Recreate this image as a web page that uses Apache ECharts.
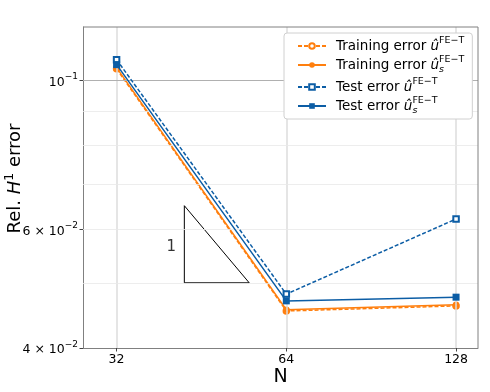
<!DOCTYPE html>
<html>
<head>
<meta charset="utf-8">
<script src="https://cdn.jsdelivr.net/npm/echarts@6/dist/echarts.min.js"></script>
<style>html,body{margin:0;padding:0;background:#fff}#c{width:490px;height:392px}</style>
</head>
<body>
<div id="c"></div>
<script>
const N = [32, 64, 128];
const trainU = [0.1040, 0.0454, 0.0462];
const trainUs = [0.1044, 0.0456, 0.0464];
const testU = [0.1073, 0.0481, 0.0622];
const testUs = [0.1055, 0.0470, 0.0476];
const xTicks = [32, 64, 128];
const yTicks = [0.04, 0.06, 0.1];
const yMinorGrid = [0.05, 0.06, 0.07, 0.08, 0.09];
const yMajorGrid = [0.1];
const triX = [42.2, 42.2, 55.0, 42.2];
const triY = [0.0651, 0.05, 0.05, 0.0651];
const triLabelPos = [40.0, 0.0565];

const FF = 'DejaVu Sans';
const ORANGE = '#ff7f0e';
const BLUE = '#0c5da5';

function pairs(xs, ys) { return xs.map((x, i) => [x, ys[i]]); }

const yLabelMap = {0.04: '4 × {n|10}{sup|−2}', 0.06: '6 × {n|10}{sup|−2}', 0.1: '{n|10}{sup|−1}'};

const legendNames = ['trU', 'trUs', 'teU', 'teUs'];
const legendText = {
  trU: '{t|Training error }{i|û}{sup|FE−T}',
  trUs: '{t|Training error }{i|û}{sub|s}{sup|FE−T}',
  teU: '{t|Test error }{i|û}{sup|FE−T}',
  teUs: '{t|Test error }{i|û}{sub|s}{sup|FE−T}'
};

const chart = echarts.init(document.getElementById('c'), null, {renderer: 'canvas'});
const option = {
  animation: false,
  grid: {left: 83, right: 12, top: 27, bottom: 44, containLabel: false, outerBoundsMode: 'none'},
  xAxis: {
    type: 'log', logBase: 2, min: 27.9, max: 140,
    name: 'N', nameLocation: 'middle', nameGap: 20, nameMoveOverlap: false,
    nameTextStyle: {fontFamily: FF, fontSize: 19, color: '#000', verticalAlign: 'top'},
    axisLine: {show: true, lineStyle: {color: '#808080', width: 1}},
    axisTick: {show: true, length: 3.5, lineStyle: {color: '#444'}, customValues: xTicks},
    axisLabel: {customValues: xTicks, fontFamily: FF, fontSize: 12.5, color: '#000', margin: 5,
      formatter: v => String(Math.round(v))},
    splitLine: {show: false}
  },
  yAxis: {
    type: 'log', logBase: 10, min: 0.04, max: 0.12,
    name: 'Rel. {i|H}{sup|1} error', nameLocation: 'middle', nameGap: 56, nameRotate: 90, nameMoveOverlap: false,
    nameTextStyle: {fontFamily: FF, fontSize: 18, color: '#000', padding: [0, 0, 0, 18],
      rich: {i: {fontFamily: FF, fontSize: 18, fontStyle: 'italic', lineHeight: 24},
             sup: {fontFamily: FF, fontSize: 12.5, verticalAlign: 'top'}}},
    axisLine: {show: true, lineStyle: {color: '#808080', width: 1}},
    axisTick: {show: true, length: 3.5, lineStyle: {color: '#444'}, customValues: yTicks},
    axisLabel: {customValues: yTicks, fontFamily: FF, fontSize: 12.5, color: '#000', margin: 5,
      padding: [4, 0, 0, 0],
      formatter: v => { const k = Object.keys(yLabelMap).find(a => Math.abs(+a - v) < 1e-6); return k ? yLabelMap[k] : ''; },
      rich: {n: {fontFamily: FF, fontSize: 12.5, lineHeight: 20},
             sup: {fontFamily: FF, fontSize: 9, verticalAlign: 'top'}}},
    splitLine: {show: false}
  },
  legend: {
    data: legendNames,
    orient: 'vertical', left: 284, top: 33, z: 20,
    padding: [3, 8, 3, 13],
    itemWidth: 28, itemHeight: 7, itemGap: 2,
    backgroundColor: '#fff', borderColor: '#d0d0d0', borderWidth: 1, borderRadius: 3,
    formatter: n => legendText[n],
    textStyle: {fontFamily: FF, fontSize: 13.5, color: '#000',
      rich: {t: {fontFamily: FF, fontSize: 13.5, lineHeight: 20, padding: [0, 0, 0, 5]},
             i: {fontFamily: FF, fontSize: 13.5, fontStyle: 'italic', lineHeight: 20},
             sub: {fontFamily: FF, fontSize: 9.5, fontStyle: 'italic', verticalAlign: 'bottom', width: 0},
             sup: {fontFamily: FF, fontSize: 9.5, verticalAlign: 'top'}}}
  },
  series: [
    {
      name: 'grid', type: 'line', data: [], z: 0, silent: true,
      markLine: {
        silent: true, symbol: 'none', label: {show: false}, animation: false,
        data: [
          ...xTicks.map(v => ({xAxis: v, lineStyle: {color: '#dcdcdc', width: 1.5, type: 'solid'}})),
          ...yMinorGrid.map(v => ({yAxis: v, lineStyle: {color: '#e8e8e8', width: 0.8, type: 'solid'}})),
          ...yMajorGrid.map(v => ({yAxis: v, lineStyle: {color: '#b0b0b0', width: 1, type: 'solid'}}))
        ]
      }
    },
    {
      name: 'triangle', type: 'line', data: pairs(triX, triY), z: 1, silent: true,
      showSymbol: false, symbol: 'none',
      lineStyle: {color: '#000', width: 1}
    },
    {
      name: 'triLabel', type: 'scatter', data: [triLabelPos], symbolSize: 0, z: 1, silent: true,
      label: {show: true, position: 'inside', formatter: '1', fontFamily: FF, fontSize: 15, color: '#000'}
    },
    {
      name: 'trU', type: 'line', data: pairs(N, trainU), z: 3,
      symbol: 'emptyCircle', symbolSize: 5.5, color: ORANGE,
      lineStyle: {color: ORANGE, width: 1.5, type: [4, 2]},
      itemStyle: {color: ORANGE, borderColor: ORANGE, borderWidth: 1}
    },
    {
      name: 'trUs', type: 'line', data: pairs(N, trainUs), z: 4,
      symbol: 'circle', symbolSize: 6.5, color: ORANGE,
      lineStyle: {color: ORANGE, width: 1.5, type: 'solid'},
      itemStyle: {color: ORANGE}
    },
    {
      name: 'teU', type: 'line', data: pairs(N, testU), z: 5,
      symbol: 'emptyRect', symbolSize: 5.5, color: BLUE,
      lineStyle: {color: BLUE, width: 1.5, type: [4, 2]},
      itemStyle: {color: BLUE, borderColor: BLUE, borderWidth: 1}
    },
    {
      name: 'teUs', type: 'line', data: pairs(N, testUs), z: 6,
      symbol: 'rect', symbolSize: 7, color: BLUE,
      lineStyle: {color: BLUE, width: 1.5, type: 'solid'},
      itemStyle: {color: BLUE}
    }
  ]
};
chart.setOption(option);
// top and right frame lines
const gr = chart.getModel().getComponent('grid').coordinateSystem.getRect();
chart.setOption({graphic: [
  {type: 'line', shape: {x1: gr.x, y1: gr.y, x2: gr.x + gr.width, y2: gr.y}, style: {stroke: '#808080', lineWidth: 1}, z: 10},
  {type: 'line', shape: {x1: gr.x + gr.width, y1: gr.y, x2: gr.x + gr.width, y2: gr.y + gr.height}, style: {stroke: '#808080', lineWidth: 1}, z: 10}
]});
</script>
</body>
</html>
